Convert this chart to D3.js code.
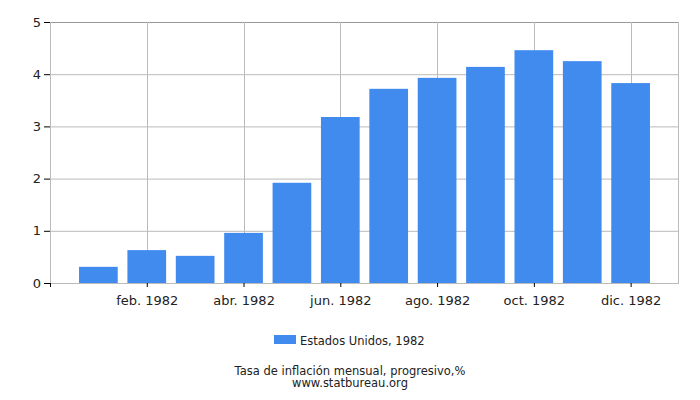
<!DOCTYPE html>
<html>
<head>
<meta charset="utf-8">
<script src="https://cdn.jsdelivr.net/npm/d3@7"></script>
<style>
  body { margin: 0; background: #fff; }
  text { font-family: "DejaVu Sans", sans-serif; }
</style>
</head>
<body>
<div id="chart"></div>
<script>
// Datos
const months = ["ene. 1982", "feb. 1982", "mar. 1982", "abr. 1982", "may. 1982", "jun. 1982",
  "jul. 1982", "ago. 1982", "sept. 1982", "oct. 1982", "nov. 1982", "dic. 1982"];
const values = [0.31, 0.63, 0.52, 0.96, 1.92, 3.18, 3.72, 3.93, 4.14, 4.46, 4.25, 3.83];
const yTicks = [0, 1, 2, 3, 4, 5];
const seriesName = "Estados Unidos, 1982";
const title = "Tasa de inflación mensual, progresivo,%";
const source = "www.statbureau.org";

const width = 700, height = 400;
const margin = { left: 50, right: 21, top: 22, bottom: 117 };
const innerW = width - margin.left - margin.right;
const innerH = height - margin.top - margin.bottom;

const svg = d3.select("#chart")
  .append("svg")
  .attr("width", width)
  .attr("height", height);

const g = svg.append("g")
  .attr("transform", `translate(${margin.left},${margin.top})`);

// posiciones 1..12, dominio 0..13
const xScale = d3.scaleLinear()
  .domain([0, months.length + 1])
  .range([0, innerW]);

const yScale = d3.scaleLinear()
  .domain([0, 5])
  .range([innerH, 0]);

const step = xScale(1) - xScale(0);
const barW = step * 0.8;

// rejilla horizontal
g.selectAll(".hgrid")
  .data(yTicks)
  .join("line")
  .attr("x1", 0)
  .attr("x2", innerW)
  .attr("y1", d => yScale(d) + 0.5)
  .attr("y2", d => yScale(d) + 0.5)
  .attr("stroke", d => d === 5 ? "#999" : "#bbb");

// rejilla vertical (meses pares)
const xTickIdx = months.map((m, i) => i).filter(i => i % 2 === 1);
g.selectAll(".vgrid")
  .data(xTickIdx)
  .join("line")
  .attr("x1", d => Math.round(xScale(d + 1)) + 0.5)
  .attr("x2", d => Math.round(xScale(d + 1)) + 0.5)
  .attr("y1", 0)
  .attr("y2", innerH)
  .attr("stroke", "#bbb");

// bordes
g.append("line").attr("x1", 0.5).attr("x2", 0.5).attr("y1", 0).attr("y2", innerH).attr("stroke", "#bbb");
g.append("line").attr("x1", innerW - 0.5).attr("x2", innerW - 0.5).attr("y1", 0).attr("y2", innerH).attr("stroke", "#bbb");

// barras
g.selectAll(".bar")
  .data(values)
  .join("rect")
  .attr("class", "bar")
  .attr("x", (d, i) => xScale(i + 1) - barW / 2)
  .attr("width", barW)
  .attr("y", d => yScale(d))
  .attr("height", d => innerH - yScale(d))
  .attr("fill", "#418bef");

// eje y
const yAxis = g.append("g")
  .call(d3.axisLeft(yScale).tickValues(yTicks).tickSize(6).tickPadding(3).tickFormat(d3.format("d")));
yAxis.select(".domain").remove();
yAxis.selectAll("line").attr("stroke", "#000");
yAxis.selectAll("text").style("font-size", "13px").attr("fill", "#222");

// eje x
const xAxis = g.append("g")
  .attr("transform", `translate(0,${innerH})`)
  .call(d3.axisBottom(xScale)
    .tickValues([0].concat(xTickIdx.map(i => i + 1)))
    .tickSize(4)
    .tickPadding(9)
    .tickFormat(d => d === 0 ? "" : months[d - 1]));
xAxis.select(".domain").attr("stroke", "#bbb").attr("d", `M0.5,0.5H${innerW}`);
xAxis.selectAll("line").attr("stroke", "#000");
xAxis.selectAll("text").style("font-size", "13px").attr("fill", "#222");

// leyenda
const legend = svg.append("g").attr("transform", "translate(274,335)");
legend.append("rect").attr("width", 22).attr("height", 9).attr("fill", "#418bef");
legend.append("text")
  .attr("x", 26).attr("y", 9.5)
  .style("font-size", "11.5px")
  .attr("fill", "#222")
  .text(seriesName);

// título y fuente
svg.append("text")
  .attr("x", 350).attr("y", 375)
  .attr("text-anchor", "middle")
  .style("font-size", "11.5px")
  .attr("fill", "#222")
  .text(title);
svg.append("text")
  .attr("x", 350).attr("y", 387)
  .attr("text-anchor", "middle")
  .style("font-size", "11.5px")
  .attr("fill", "#222")
  .text(source);
</script>
</body>
</html>
